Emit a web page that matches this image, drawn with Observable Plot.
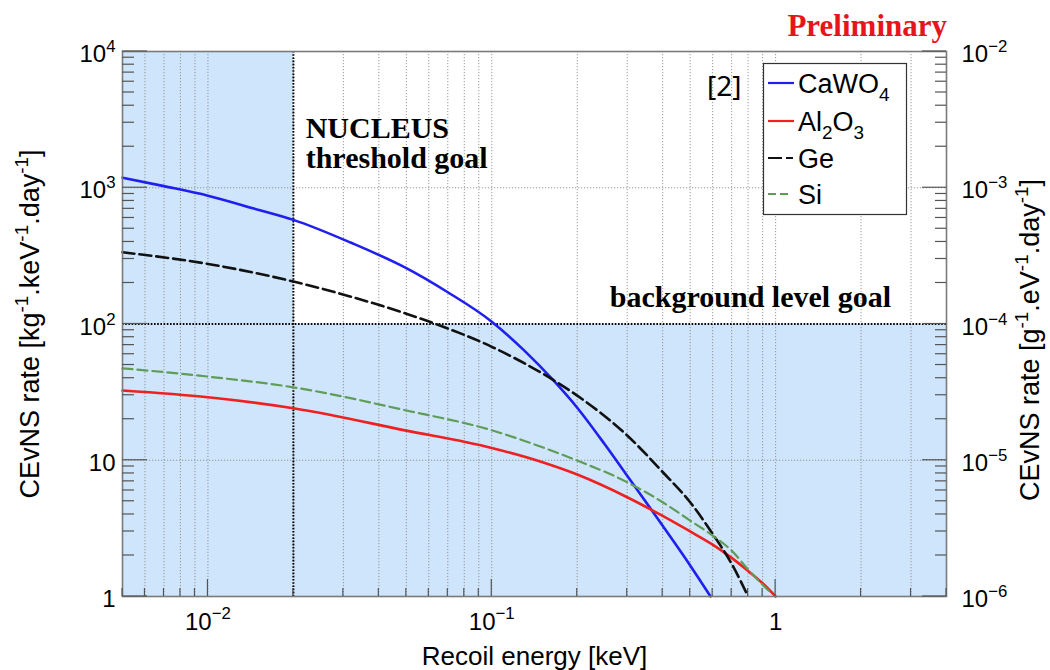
<!DOCTYPE html>
<html>
<head>
<meta charset="utf-8">
<script src="https://cdn.jsdelivr.net/npm/d3@7"></script>
<script src="https://cdn.jsdelivr.net/npm/@observablehq/plot@0.6"></script>
<style>
  html, body { margin: 0; padding: 0; background: #fff; }
  #chart { position: relative; width: 1050px; height: 670px; }
</style>
</head>
<body>
<div id="chart"></div>
<script>
// ---------- data (recoil energy [keV], CEvNS rate [kg^-1 keV^-1 day^-1]) ----------
const caWO4 = [[0.005,1186],[0.007,1028],[0.01,875],[0.015,690],[0.02,581],[0.0318,396],[0.05,257],[0.07,171],[0.1,104],[0.13,64],[0.164,39],[0.2,24.3],[0.25,13.1],[0.3,7.7],[0.363,4.4],[0.4,3.3],[0.5,1.69],[0.59,1.0]];
const al2O3 = [[0.005,32.5],[0.01,29],[0.02,24.1],[0.05,16.5],[0.1,12.3],[0.15,9.7],[0.2,7.85],[0.3,5.35],[0.4,3.9],[0.5,3.0],[0.6,2.4],[0.7,1.92],[0.8,1.54],[0.9,1.25],[1.0,1.0]];
const ge    = [[0.005,336],[0.01,276],[0.02,205],[0.0325,157],[0.05,119],[0.0635,100],[0.1,68],[0.164,39],[0.2,29.8],[0.3,15.2],[0.4,8.2],[0.5,4.92],[0.6,2.88],[0.7,1.74],[0.8,1.0]];
const si    = [[0.005,47.3],[0.01,41.1],[0.02,34.3],[0.05,23.2],[0.1,16.6],[0.15,12.5],[0.2,9.95],[0.3,6.9],[0.4,4.92],[0.5,3.61],[0.6,2.8],[0.7,2.17],[0.8,1.58],[0.9,1.22],[0.97,1.05]];

const seriesNames = ["CaWO_{4}", "Al_{2}O_{3}", "Ge", "Si"];
const seriesData = [caWO4, al2O3, ge, si];

const xDomain = [0.005, 4];
const yDomain = [1, 1e4];
const thresholdGoal = 0.02;   // keV
const backgroundGoal = 100;   // counts/(kg keV day)

const xMajorTicks = [0.01, 0.1, 1];
const xTickLabels = ["10^{−2}", "10^{−1}", "1"];
const yMajorTicks = [1, 10, 100, 1000, 10000];
const yLeftLabels = ["1", "10", "10^{2}", "10^{3}", "10^{4}"];
const yRightLabels = ["10^{−6}", "10^{−5}", "10^{−4}", "10^{−3}", "10^{−2}"];
const yGridTicks = [10, 1000];

const xTitle = "Recoil energy [keV]";
const yLeftTitle = "CEvNS rate [kg^{-1}.keV^{-1}.day^{-1}]";
const yRightTitle = "CEvNS rate [g^{-1}.eV^{-1}.day^{-1}]";

const thresholdText = [
  {text: "NUCLEUS", E: 0.0221, rate: 2333},
  {text: "threshold goal", E: 0.0221, rate: 1404}
];
const backgroundText = [{text: "background level goal", E: 2.55, rate: 134}];

// ---------- styles ----------
const styles = [
  {color: "#1f1ff0", width: 2.6, dash: null},
  {color: "#ee2020", width: 2.6, dash: null},
  {color: "#111111", width: 2.6, dash: "12,5"},
  {color: "#5f9c58", width: 2.2, dash: "10,5"}
];
const shadeColor = "#cee5fb";
const sans = "'Liberation Sans', Arial, Helvetica, sans-serif";
const serif = "'Liberation Serif', 'Times New Roman', serif";

// tick positions (1..9 x decade) inside a domain
function decadeTicks(domain) {
  const out = [];
  for (let e = -4; e <= 4; e++) {
    for (let k = 1; k <= 9; k++) {
      const v = +(k * Math.pow(10, e)).toPrecision(6);
      if (v >= domain[0] * 0.999 && v <= domain[1] * 1.001) out.push(v);
    }
  }
  return out;
}
const xAllTicks = decadeTicks(xDomain);
const yAllTicks = decadeTicks(yDomain);

const shade = [
  {x1: xDomain[0], x2: thresholdGoal, y1: yDomain[0], y2: yDomain[1]},
  {x1: thresholdGoal, x2: xDomain[1], y1: yDomain[0], y2: backgroundGoal}
];

const lineMarks = seriesData.map((d, i) => Plot.line(d, {
  x: p => p[0], y: p => p[1],
  stroke: styles[i].color, strokeWidth: styles[i].width,
  strokeDasharray: styles[i].dash, curve: "monotone-x"
}));

const svg = Plot.plot({
  width: 1050, height: 670,
  marginTop: 51, marginBottom: 74, marginLeft: 122, marginRight: 104,
  x: {type: "log", domain: xDomain, label: null},
  y: {type: "log", domain: yDomain, label: null},
  style: {fontFamily: sans, fontSize: "24px", color: "#000", background: "#fff"},
  marks: [
    Plot.rect(shade, {x1: "x1", x2: "x2", y1: "y1", y2: "y2", fill: shadeColor}),
    Plot.gridX(xAllTicks, {stroke: "#8c8c8c", strokeOpacity: 1, strokeWidth: 0.9, strokeDasharray: "1.2,1.8"}),
    Plot.gridY(yGridTicks, {stroke: "#8c8c8c", strokeOpacity: 1, strokeWidth: 0.9, strokeDasharray: "1.2,1.8"}),
    Plot.ruleX([thresholdGoal], {stroke: "#000", strokeWidth: 2, strokeDasharray: "1.6,1.6"}),
    Plot.ruleY([backgroundGoal], {stroke: "#000", strokeWidth: 2, strokeDasharray: "1.6,1.6"}),
    ...lineMarks,
    // tick labels (tick marks drawn inward below)
    Plot.axisY({anchor: "left", ticks: yMajorTicks, tickSize: 0, tickPadding: 7,
      tickFormat: d => yLeftLabels[yMajorTicks.indexOf(d)], dy: 3}),
    Plot.axisY({anchor: "right", ticks: yMajorTicks, tickSize: 0, tickPadding: 15,
      tickFormat: d => yRightLabels[yMajorTicks.indexOf(d)], dy: 3}),
    Plot.axisX({anchor: "bottom", ticks: xMajorTicks, tickSize: 0, tickPadding: 16,
      tickFormat: d => xTickLabels[xMajorTicks.indexOf(d)]}),
    Plot.frame({stroke: "#7a7a7a", strokeWidth: 1.6}),
    // axis titles
    Plot.text([xTitle], {frameAnchor: "bottom", dy: 60, fontSize: 26, textAnchor: "middle", lineAnchor: "middle", fontFamily: sans}),
    Plot.text([yLeftTitle], {frameAnchor: "left", dx: -92, dy: 0, rotate: -90, fontSize: 27, textAnchor: "middle", lineAnchor: "middle", fontFamily: sans}),
    Plot.text([yRightTitle], {frameAnchor: "right", dx: 84, dy: 16, rotate: -90, fontSize: 27, textAnchor: "middle", lineAnchor: "middle", fontFamily: sans}),
    // annotations
    Plot.text(thresholdText, {x: "E", y: "rate", text: "text", textAnchor: "start", lineAnchor: "bottom",
      fontSize: 30, fontWeight: "bold", fontFamily: serif, fill: "#000"}),
    Plot.text(backgroundText, {x: "E", y: "rate", text: "text", textAnchor: "end", lineAnchor: "bottom",
      fontSize: 30, fontWeight: "bold", fontFamily: serif, fill: "#000"})
  ]
});

document.getElementById("chart").appendChild(svg);

// ---------- inward ROOT-style tick marks, positioned through Plot's own scales ----------
const sx = svg.scale("x"), sy = svg.scale("y");
const X0 = sx.apply(xDomain[0]), X1 = sx.apply(xDomain[1]);
const Y0 = sy.apply(yDomain[0]);
const tk = d3.select(svg).append("g").attr("stroke", "#555").attr("stroke-width", 1.2);
yAllTicks.forEach(v => {
  const major = yMajorTicks.includes(v);
  const y = sy.apply(v);
  tk.append("line").attr("x1", X0).attr("x2", X0 + (major ? 25 : 12)).attr("y1", y).attr("y2", y);
  tk.append("line").attr("x1", X1).attr("x2", X1 - (major ? 24 : 11)).attr("y1", y).attr("y2", y);
});
xAllTicks.forEach(v => {
  const major = xMajorTicks.includes(v);
  const x = sx.apply(v);
  tk.append("line").attr("x1", x).attr("x2", x).attr("y1", Y0).attr("y2", Y0 - (major ? 17 : 8));
});

// ---------- extra decorations: "Preliminary", "[2]", legend ----------
const g = d3.select(svg).append("g").attr("text-anchor", "start");
g.append("text").attr("x", 947).attr("y", 36).attr("text-anchor", "end")
  .attr("font-family", serif).attr("font-weight", "bold").attr("font-size", 31).attr("fill", "#e8141c")
  .text("Preliminary");
g.append("text").attr("x", 707).attr("y", 96).attr("text-anchor", "start")
  .attr("font-family", "'Noto Sans', 'Open Sans', sans-serif").attr("font-size", 28).attr("fill", "#000")
  .text("[2]");

const leg = g.append("g");
leg.append("rect").attr("x", 763.5).attr("y", 63.5).attr("width", 143).attr("height", 151)
  .attr("fill", "#fff").attr("stroke", "#333").attr("stroke-width", 1.2);
const legBaselines = [93, 131, 168, 204];
const legDash = [null, null, "14,4,7", "8,4,8"];
seriesNames.forEach((name, i) => {
  const yb = legBaselines[i];
  leg.append("line").attr("x1", 768).attr("x2", 794).attr("y1", yb - 10).attr("y2", yb - 10)
    .attr("stroke", styles[i].color).attr("stroke-width", 2.2)
    .attr("stroke-dasharray", legDash[i]);
  leg.append("text").attr("x", 798).attr("y", yb).attr("text-anchor", "start")
    .attr("font-family", sans).attr("font-size", 27).attr("fill", "#000").text(name);
});

// ---------- convert ^{..} / _{..} markup into real superscript / subscript tspans ----------
function richify(root) {
  root.querySelectorAll("text").forEach(t => {
    const s = t.textContent;
    if (!/[\^_]\{/.test(s)) return;
    const fs = parseFloat(getComputedStyle(t).fontSize) || 24;
    while (t.firstChild) t.removeChild(t.firstChild);
    const re = /([\^_])\{([^}]*)\}|([^\^_]+)/g;
    let m, shift = 0;
    while ((m = re.exec(s))) {
      const ts = document.createElementNS("http://www.w3.org/2000/svg", "tspan");
      if (m[1]) {
        const target = m[1] === "^" ? -0.42 * fs : 0.28 * fs;
        ts.setAttribute("dy", (target - shift).toFixed(2));
        shift = target;
        ts.setAttribute("font-size", (0.7 * fs).toFixed(1));
        ts.textContent = m[2];
      } else {
        if (shift) ts.setAttribute("dy", (-shift).toFixed(2));
        shift = 0;
        ts.textContent = m[3];
      }
      t.appendChild(ts);
    }
  });
}
richify(svg);
</script>
</body>
</html>
